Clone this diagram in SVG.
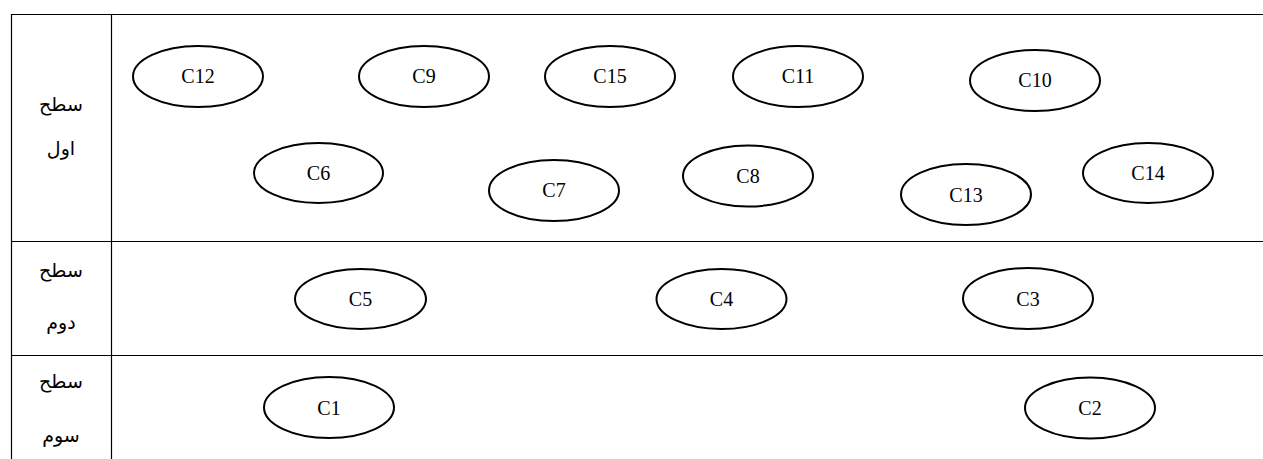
<svg xmlns="http://www.w3.org/2000/svg" width="1263" height="459" viewBox="0 0 1263 459">
<style>
.grid{stroke:#000;stroke-width:1.2;fill:none}
.node ellipse{fill:#fff;stroke:#000;stroke-width:2}
.node text{font-family:"Liberation Serif","Times New Roman",serif;font-size:20px;text-anchor:middle;fill:#000}
.lbl{font-family:"Liberation Serif","DejaVu Sans","Noto Sans",serif;font-size:19px;text-anchor:middle;fill:#000}
</style>
<rect width="1263" height="459" fill="#fff"/>
<g id="table" class="grid">
<line x1="11" y1="14.5" x2="1263" y2="14.5"/>
<line x1="11.5" y1="14" x2="11.5" y2="459"/>
<line x1="111.5" y1="14" x2="111.5" y2="459"/>
<line x1="11" y1="241.5" x2="1263" y2="241.5"/>
<line x1="11" y1="355.5" x2="1263" y2="355.5"/>
</g>
<g id="labels">
<text class="lbl" x="61" y="111" direction="rtl">سطح</text>
<text class="lbl" x="61" y="155" direction="rtl">اول</text>
<text class="lbl" x="61" y="277" direction="rtl">سطح</text>
<text class="lbl" x="61" y="329" direction="rtl">دوم</text>
<text class="lbl" x="61" y="388" direction="rtl">سطح</text>
<text class="lbl" x="61" y="442" direction="rtl">سوم</text>
</g>
<g id="connectors"></g>
<g id="C12" class="node"><ellipse cx="198" cy="76.5" rx="65" ry="30.5"/><text x="198" y="83">C12</text></g>
<g id="C9" class="node"><ellipse cx="424" cy="76.5" rx="65" ry="30.5"/><text x="424" y="83">C9</text></g>
<g id="C15" class="node"><ellipse cx="610" cy="76.5" rx="65" ry="30.5"/><text x="610" y="83">C15</text></g>
<g id="C11" class="node"><ellipse cx="798" cy="76.5" rx="65" ry="30.5"/><text x="798" y="83">C11</text></g>
<g id="C10" class="node"><ellipse cx="1035" cy="80.5" rx="65" ry="30.5"/><text x="1035" y="87">C10</text></g>
<g id="C6" class="node"><ellipse cx="318.5" cy="173" rx="64.5" ry="30"/><text x="318.5" y="180">C6</text></g>
<g id="C7" class="node"><ellipse cx="554" cy="190.5" rx="65" ry="30.5"/><text x="554" y="197">C7</text></g>
<g id="C8" class="node"><ellipse cx="748" cy="176" rx="65" ry="30.5"/><text x="748" y="182.5">C8</text></g>
<g id="C13" class="node"><ellipse cx="966" cy="194.5" rx="65" ry="30.5"/><text x="966" y="201.5">C13</text></g>
<g id="C14" class="node"><ellipse cx="1148" cy="173" rx="65" ry="30"/><text x="1148" y="180">C14</text></g>
<g id="C5" class="node"><ellipse cx="360.5" cy="299" rx="65.5" ry="30"/><text x="360.5" y="306">C5</text></g>
<g id="C4" class="node"><ellipse cx="721.5" cy="299" rx="65" ry="30"/><text x="721.5" y="306">C4</text></g>
<g id="C3" class="node"><ellipse cx="1028" cy="298.5" rx="65" ry="30.5"/><text x="1028" y="305.5">C3</text></g>
<g id="C1" class="node"><ellipse cx="329" cy="407.5" rx="65" ry="30.5"/><text x="329" y="414.5">C1</text></g>
<g id="C2" class="node"><ellipse cx="1090" cy="408" rx="65" ry="30.5"/><text x="1090" y="415">C2</text></g>
</svg>
